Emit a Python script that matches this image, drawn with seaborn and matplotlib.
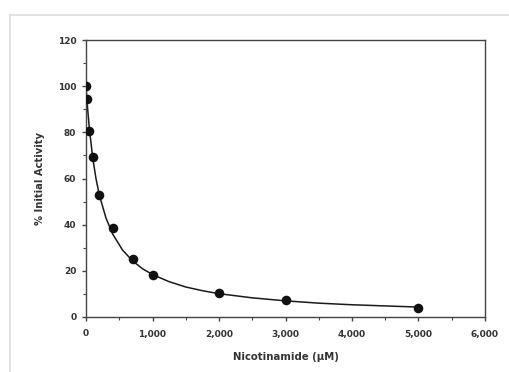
import matplotlib
matplotlib.use("Agg")
import matplotlib.pyplot as plt
import seaborn as sns
import pandas as pd
from matplotlib.ticker import MultipleLocator, FuncFormatter
from matplotlib.lines import Line2D

sns.set_theme(style="ticks")
plt.rcParams['font.family'] = ['DejaVu Sans']

# Measured points
conc_um = [0, 10, 50, 100, 200, 400, 700, 1000, 2000, 3000, 5000]
activity = [100, 94.5, 80.5, 69.5, 53, 38.5, 25, 18, 10.5, 7.3, 4]

# Fitted curve
fit_x = [0, 10, 25, 50, 100, 150, 200, 300, 400, 550, 700, 850, 1000,
         1250, 1500, 1750, 2000, 2500, 3000, 3500, 4000, 4500, 5000]
fit_y = [100, 95.7, 90, 81.8, 69.2, 60, 52.9, 42.9, 36, 29, 24.3, 20.9, 18.4,
         15.3, 13.0, 11.4, 10.1, 8.3, 7.0, 6.0, 5.3, 4.8, 4.3]

pts = pd.DataFrame({"x": conc_um, "y": activity})
fit = pd.DataFrame({"x": fit_x, "y": fit_y})

fig = plt.figure(figsize=(5.1, 3.72), dpi=100)
ax = fig.add_axes([86/510, 1-317/372, (485-86)/510, (317-40)/372])

sns.lineplot(data=fit, x="x", y="y", ax=ax, color="#1a1a1a", linewidth=1.1, sort=True)
sns.scatterplot(data=pts, x="x", y="y", ax=ax, color="#111111", s=48,
                edgecolor="#111111", linewidth=0, zorder=5)

ax.set_xlim(0, 6000)
ax.set_ylim(0, 120)
ax.xaxis.set_major_locator(MultipleLocator(1000))
ax.xaxis.set_minor_locator(MultipleLocator(500))
ax.yaxis.set_major_locator(MultipleLocator(20))
ax.yaxis.set_minor_locator(MultipleLocator(10))
ax.xaxis.set_major_formatter(FuncFormatter(lambda v, p: f"{int(v):,}"))

txt = "#333333"
ax.tick_params(axis="both", which="major", length=3, width=1, color="#444444",
               labelsize=6.5, labelcolor=txt, direction="out")
ax.tick_params(axis="x", which="major", pad=6)
ax.tick_params(axis="y", which="major", pad=4)
ax.tick_params(axis="both", which="minor", length=2, width=0.8, color="#444444",
               direction="out")
for lab in ax.get_xticklabels() + ax.get_yticklabels():
    lab.set_fontweight("bold")
for s in ax.spines.values():
    s.set_color("#444444")
    s.set_linewidth(1.0)

ax.set_xlabel("Nicotinamide (µM)", fontsize=7.3, fontweight="bold", color=txt, labelpad=10)
ax.set_ylabel("% Initial Activity", fontsize=7.2, fontweight="bold", color=txt, labelpad=9)

# light image frame
fig.add_artist(Line2D([10/510, 1], [1-15/372, 1-15/372], transform=fig.transFigure,
                      color="#dddddd", linewidth=1.2))
fig.add_artist(Line2D([10/510, 10/510], [0, 1-15/372], transform=fig.transFigure,
                      color="#dddddd", linewidth=1.2))

fig.savefig("out.png", dpi=100)
